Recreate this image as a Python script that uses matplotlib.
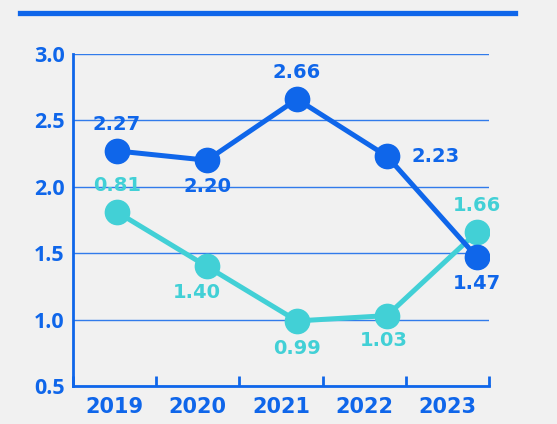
import numpy as np
import matplotlib
matplotlib.use("Agg")
import matplotlib.pyplot as plt
from matplotlib.lines import Line2D

years = ["2019", "2020", "2021", "2022", "2023"]
series_a = [2.27, 2.20, 2.66, 2.23, 1.47]
series_b = [1.81, 1.40, 0.99, 1.03, 1.66]
labels_a = ["2.27", "2.20", "2.66", "2.23", "1.47"]
labels_b = ["0.81", "1.40", "0.99", "1.03", "1.66"]
yticks = [0.5, 1.0, 1.5, 2.0, 2.5, 3.0]

BLUE = "#0f66ea"
CYAN = "#42d0d6"
BG = "#f1f1f1"

fig = plt.figure(figsize=(5.57, 4.24), dpi=100, facecolor=BG)
ax = fig.add_axes([73/557, 1-386/424, (489-73)/557, (386-54)/424])
ax.set_facecolor(BG)

x = np.arange(len(years))
ax.plot(x, series_b, color=CYAN, lw=3.6, marker="o", ms=17.5, zorder=3, solid_capstyle="round")
ax.plot(x, series_a, color=BLUE, lw=3.6, marker="o", ms=17.5, zorder=4, solid_capstyle="round")

x0, x1 = -0.489, 4.133
ax.set_xlim(x0, x1)
ax.set_ylim(0.5, 3.0)

bounds = np.linspace(x0, x1, 6)
centers = (bounds[:-1] + bounds[1:]) / 2
ax.set_xticks(bounds)
ax.set_xticklabels([""] * 6)
ax.set_xticks(centers, minor=True)
ax.set_xticklabels(years, minor=True)
ax.tick_params(axis="x", which="major", direction="in", length=7, width=2, color=BLUE)
ax.tick_params(axis="x", which="minor", length=0, pad=8, labelsize=15, labelcolor=BLUE)
for t in ax.get_xticklabels(minor=True):
    t.set_fontweight("bold")
    t.set_family("DejaVu Sans")

ax.set_yticks(yticks)
ax.set_yticklabels([f"{v:.1f}" for v in yticks])
ax.tick_params(axis="y", length=0, pad=6, labelsize=15.5, labelcolor=BLUE)
for t in ax.get_yticklabels():
    t.set_fontweight("bold")
    t.set_family("Open Sans")

ax.grid(axis="y", color=BLUE, lw=1.0, alpha=0.85)
ax.set_axisbelow(True)
for s in ["top", "right"]:
    ax.spines[s].set_visible(False)
for s in ["left", "bottom"]:
    ax.spines[s].set_color(BLUE)
    ax.spines[s].set_linewidth(2)

off_a = [(0, 19), (0, -19), (0, 19), (35, 0), (0, -19)]
off_b = [(0, 19), (-7, -19), (0, -20), (-2, -18), (0, 19)]
for i in range(len(years)):
    ax.annotate(labels_a[i], (x[i], series_a[i]), xytext=off_a[i], textcoords="offset points",
                ha="center", va="center", color=BLUE, fontsize=14, fontweight="bold",
                family="DejaVu Sans", zorder=6)
    ax.annotate(labels_b[i], (x[i], series_b[i]), xytext=off_b[i], textcoords="offset points",
                ha="center", va="center", color=CYAN, fontsize=14, fontweight="bold",
                family="DejaVu Sans", zorder=6)

fig.add_artist(Line2D([20/557, 515/557], [1-13/424, 1-13/424], color=BLUE, lw=3.8,
                      transform=fig.transFigure))

fig.savefig("out.png", dpi=100, facecolor=BG)
